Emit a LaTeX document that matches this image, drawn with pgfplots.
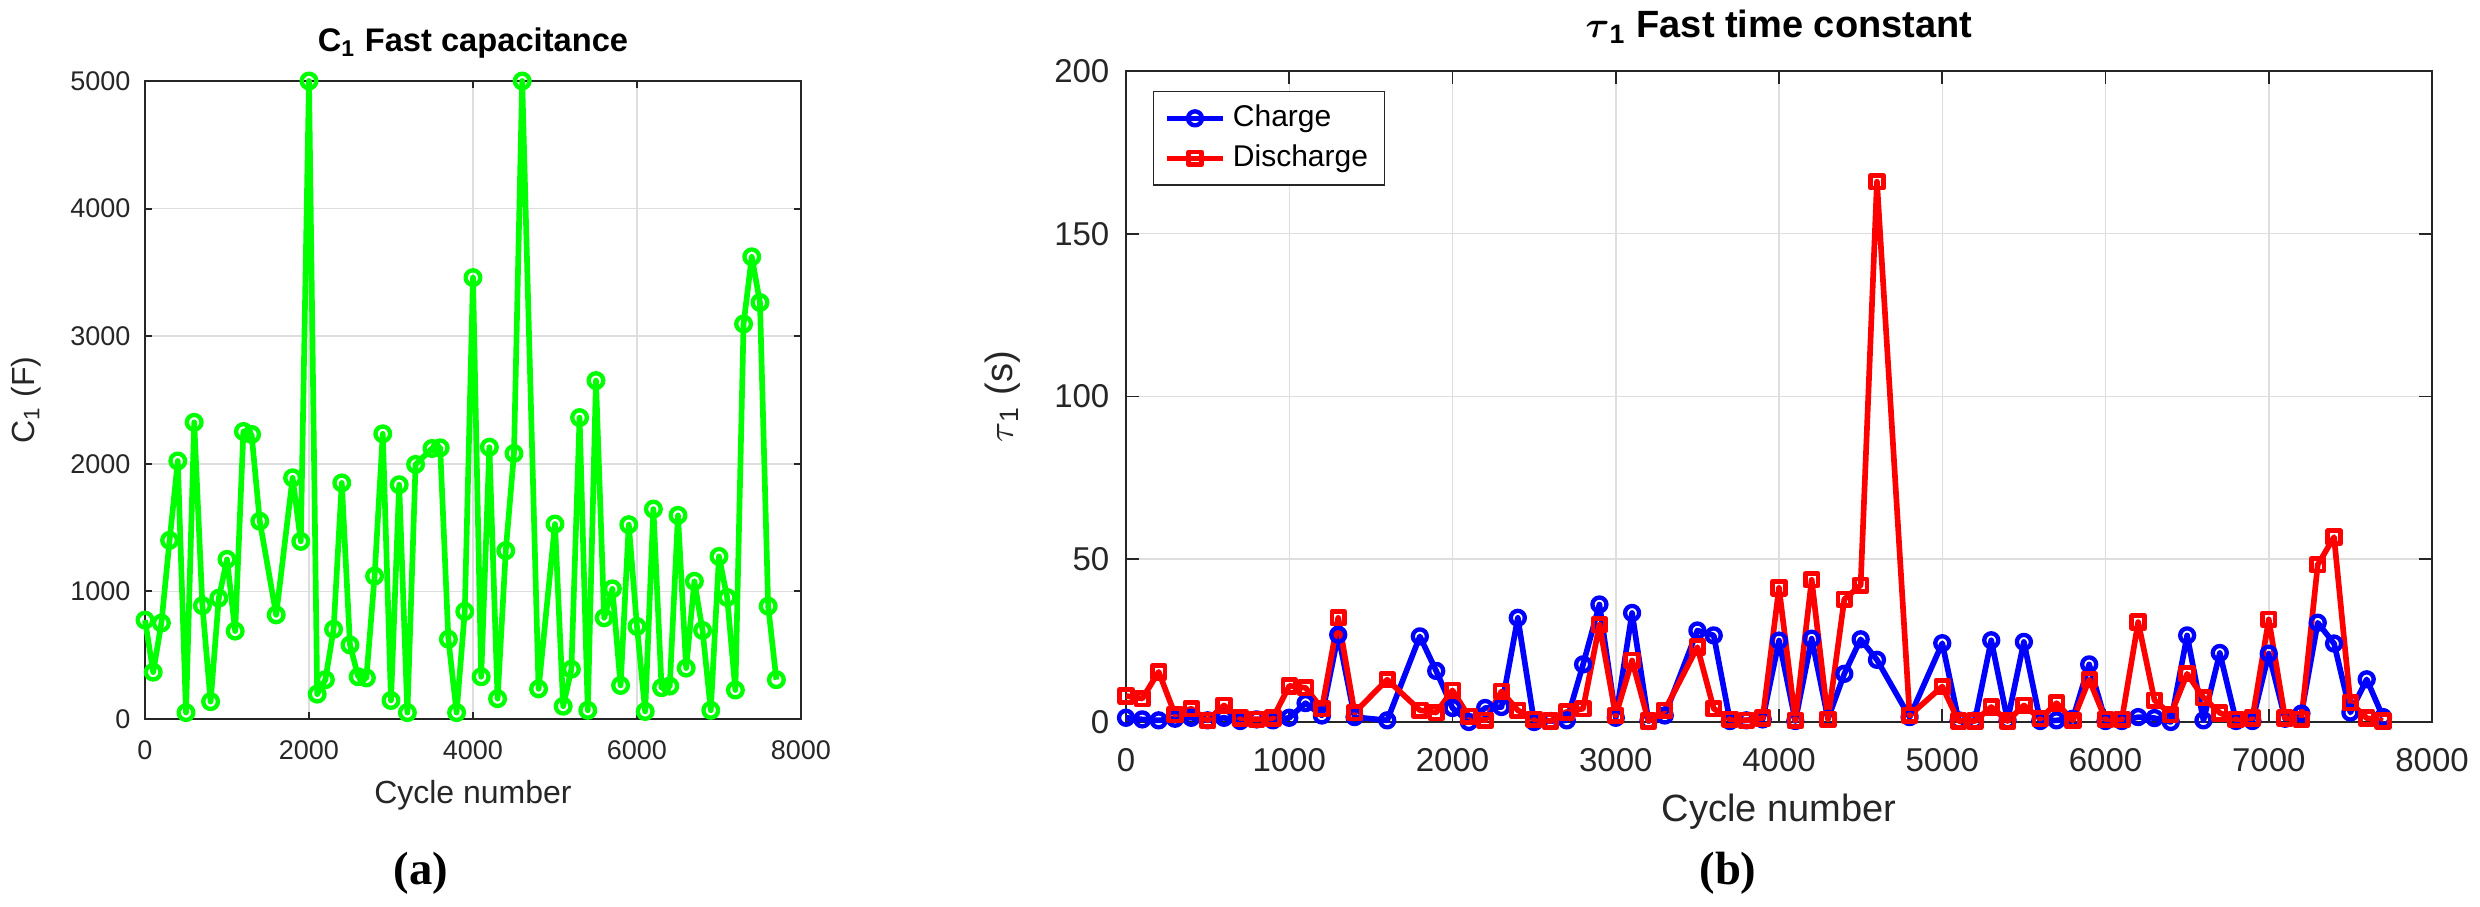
\documentclass[border=0pt]{standalone}
\usepackage{amsmath}
\usepackage{fontspec}
\setsansfont{Liberation Sans}
\newfontfamily\capfont{Liberation Serif}
\usepackage{pgfplots}
\pgfplotsset{compat=1.18}
\definecolor{mgray}{RGB}{38,38,38}
\definecolor{mgreen}{RGB}{0,255,0}

\pgfplotstableread{
x y
0 775
100 367
200 752
300 1400
400 2022
500 50
600 2325
700 888
800 136
900 947
1000 1251
1100 689
1200 2253
1300 2230
1400 1550
1600 816
1800 1890
1900 1392
2000 5000
2100 195
2200 308
2300 703
2400 1850
2500 580
2600 331
2700 322
2800 1120
2900 2235
3000 145
3100 1836
3200 50
3300 1995
3500 2120
3600 2125
3700 625
3800 50
3900 843
4000 3459
4100 331
4200 2130
4300 159
4400 1319
4500 2081
4600 5000
4800 236
5000 1528
5100 100
5200 390
5300 2362
5400 68
5500 2652
5600 793
5700 1020
5800 263
5900 1523
6000 725
6100 59
6200 1645
6300 245
6400 258
6500 1596
6600 399
6700 1079
6800 694
6900 68
7000 1274
7100 952
7200 227
7300 3096
7400 3622
7500 3264
7600 884
7700 308
}\capdata

\pgfplotstableread{
x y
0 1.3
100 0.8
200 0.5
300 1.0
400 1.3
500 0.5
600 1.3
700 0.3
800 0.8
900 0.5
1000 1.3
1100 5.8
1200 2.0
1300 26.8
1400 1.5
1600 0.5
1800 26.3
1900 15.7
2000 4.3
2100 0
2200 4.3
2300 4.6
2400 32.0
2500 0
2600 0.3
2700 0.5
2800 17.7
2900 36.1
3000 1.3
3100 33.5
3200 0.3
3300 2.0
3500 28.1
3600 26.6
3700 0.3
3800 0.5
3900 0.8
4000 25
4100 0.3
4200 25.6
4300 1.0
4400 14.8
4500 25.4
4600 19.1
4800 1.5
5000 24.2
5100 0.5
5200 0.5
5300 25.1
5400 0.5
5500 24.6
5600 0.3
5700 0.5
5800 1.0
5900 17.7
6000 0.3
6100 0.3
6200 1.5
6300 1.2
6400 0
6500 26.6
6600 0.5
6700 21.2
6800 0.3
6900 0.3
7000 21
7100 1.0
7200 2.6
7300 30.5
7400 24.1
7500 2.9
7600 13.1
7700 1.5
}\chargedata

\pgfplotstableread{
x y
0 8.0
100 7.2
200 15.4
300 2.3
400 4.1
500 0.5
600 5.1
700 1.2
800 0.8
900 1.2
1000 11.1
1100 10.5
1200 4.1
1300 32.0
1400 2.9
1600 13.0
1800 3.6
1900 2.9
2000 9.7
2100 1.7
2200 0.5
2300 9.4
2400 3.6
2500 0.8
2600 0.3
2700 3.1
2800 4.1
2900 29.9
3000 2.0
3100 18.9
3200 0.3
3300 3.6
3500 23.0
3600 4.1
3700 0.8
3800 0.5
3900 1.2
4000 41.2
4100 0.5
4200 43.7
4300 0.8
4400 37.7
4500 42.0
4600 166
4800 2.0
5000 10.9
5100 0.3
5200 0.3
5300 4.6
5400 0.3
5500 5.1
5600 1.0
5700 5.8
5800 0.5
5900 13.0
6000 0.8
6100 0.8
6200 30.7
6300 6.7
6400 2.3
6500 14.8
6600 7.5
6700 2.8
6800 0.8
6900 1.2
7000 31.5
7100 1.2
7200 0.8
7300 48.3
7400 56.8
7500 5.9
7600 1.2
7700 0.3
}\dischargedata

\begin{document}
\begin{tikzpicture}[font=\sffamily]
\path[use as bounding box] (0,0) rectangle (744pt,272.1pt);

\pgfplotsset{
  mstyle/.style={
    scale only axis,
    clip=false,
    grid=major,
    major grid style={black!13, line width=0.45pt},
    axis line style={mgray, line width=0.55pt},
    tick style={mgray, line width=0.55pt},
    tick align=inside,
    tick pos=both,
    scaled ticks=false,
    every axis title shift=0pt,
    /pgf/number format/assume math mode=true,
    /pgf/number format/1000 sep={},
  }
}

% ---------- (a) ----------
\begin{axis}[
  mstyle,
  at={(43.5pt,56.4pt)}, anchor=south west,
  width=196.8pt, height=191.4pt,
  xmin=0, xmax=8000, ymin=0, ymax=5000,
  xtick={0,2000,4000,6000,8000},
  ytick={0,1000,2000,3000,4000,5000},
  major tick length=2pt,
  xticklabel style={font=\sffamily\fontsize{8.1}{9}\selectfont, text=mgray, anchor=center, yshift=-9.3pt},
  yticklabel style={font=\sffamily\fontsize{8.1}{9}\selectfont, text=mgray, anchor=east, inner sep=0pt, xshift=-4.2pt},
  xlabel={Cycle number},
  xlabel style={at={(axis description cs:0.5,-0.119)}, anchor=center, font=\sffamily\fontsize{9.6}{11}\selectfont, text=mgray},
  ylabel={C\textsubscript{1} (F)},
  ylabel style={at={(axis description cs:-0.1814,0.5)}, anchor=center, font=\sffamily\fontsize{9.6}{11}\selectfont, text=mgray},
  title={C\textsubscript{1} Fast capacitance},
  title style={at={(axis description cs:0.5,1.0596)}, anchor=center, font=\sffamily\bfseries\fontsize{9.8}{11}\selectfont},
]
\addplot[color=mgreen, line width=1.7pt, line join=round, mark=o, mark size=2.2pt, mark options={line width=1.3pt, solid}] table[x=x,y=y] {\capdata};
\end{axis}

% ---------- (b) ----------
\begin{axis}[
  mstyle,
  at={(337.8pt,55.5pt)}, anchor=south west,
  width=391.8pt, height=195.3pt,
  xmin=0, xmax=8000, ymin=0, ymax=200,
  xtick={0,1000,2000,3000,4000,5000,6000,7000,8000},
  ytick={0,50,100,150,200},
  major tick length=3.9pt,
  xticklabel style={font=\sffamily\fontsize{9.9}{11}\selectfont, text=mgray, anchor=center, yshift=-11.4pt},
  yticklabel style={font=\sffamily\fontsize{9.9}{11}\selectfont, text=mgray, anchor=east, inner sep=0pt, xshift=-4.8pt},
  xlabel={Cycle number},
  xlabel style={at={(axis description cs:0.5,-0.138)}, anchor=center, font=\sffamily\fontsize{11.4}{13}\selectfont, text=mgray},
  ylabel={$\tau$\textsubscript{1} (s)},
  ylabel style={at={(axis description cs:-0.0942,0.5)}, anchor=center, font=\sffamily\fontsize{11.4}{13}\selectfont, text=mgray},
  title={$\boldsymbol{\tau}$\textsubscript{1} Fast time constant},
  title style={at={(axis description cs:0.5,1.0676)}, anchor=center, font=\sffamily\bfseries\fontsize{11.4}{13}\selectfont},
  legend style={at={(0.0207,0.9693)}, anchor=north west,
    draw=mgray, fill=white,
    font=\sffamily\fontsize{9}{10}\selectfont},
  legend cell align=left,
]
\addplot[color=blue, line width=1.7pt, line join=round, mark=o, mark size=2.1pt, mark options={line width=1.3pt, solid}] table[x=x,y=y] {\chargedata};
\addlegendentry{Charge}
\addplot[color=red, line width=1.7pt, line join=round, mark=square, mark size=1.9pt, mark options={line width=1.4pt, solid}] table[x=x,y=y] {\dischargedata};
\addlegendentry{Discharge}
\end{axis}

\node[font=\capfont\bfseries\fontsize{14}{16}\selectfont, anchor=center] at (126.3pt,10.2pt) {(a)};
\node[font=\capfont\bfseries\fontsize{14}{16}\selectfont, anchor=center] at (518.4pt,10.2pt) {(b)};
\end{tikzpicture}
\end{document}
